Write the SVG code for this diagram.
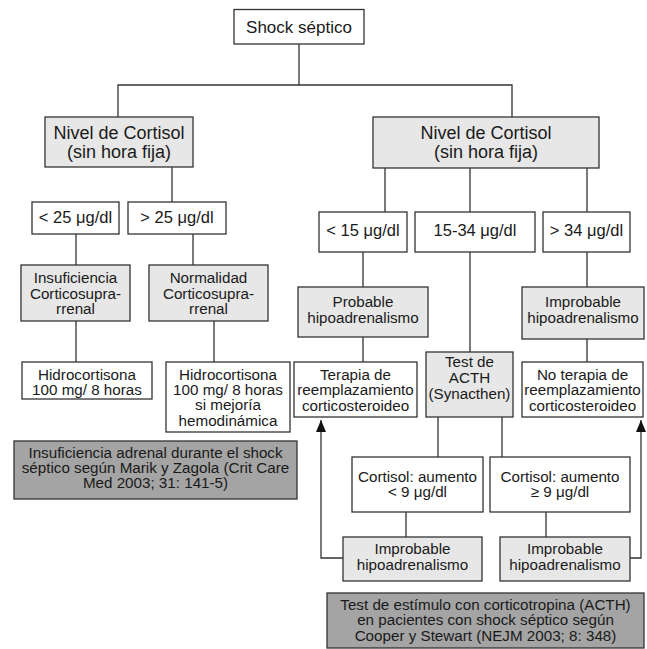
<svg xmlns="http://www.w3.org/2000/svg" width="647" height="649" viewBox="0 0 647 649">
<style>
.b{fill:#fff;stroke:#333;stroke-width:1.3}
.g{fill:#e7e7e7;stroke:#333;stroke-width:1.3}
.d{fill:#a4a4a4;stroke:#333;stroke-width:1.3}
text{font-family:"Liberation Sans",Arial,sans-serif;font-size:15.2px;fill:#1a1a1a;text-anchor:middle}
.n{font-size:18px}
.u{font-size:16.5px}
.c line,.c path{stroke:#333;stroke-width:1.3;fill:none}
</style>
<defs>
<marker id="ah" viewBox="0 0 10 12" refX="5" refY="0" markerWidth="10" markerHeight="12" markerUnits="userSpaceOnUse" orient="0">
<path d="M0,12 L5,0 L10,12 Z" fill="#111"/>
</marker>
</defs>
<g class="c" id="connectors">
<line x1="299" y1="44" x2="299" y2="85"/>
<path d="M118,117 V85 H512 V117"/>
<line x1="172" y1="167" x2="172" y2="202"/>
<line x1="76" y1="234" x2="76" y2="265"/>
<line x1="193" y1="234" x2="193" y2="265"/>
<line x1="76" y1="321" x2="76" y2="362"/>
<line x1="214" y1="321" x2="214" y2="362"/>
<line x1="385" y1="168" x2="385" y2="212"/>
<line x1="470" y1="168" x2="470" y2="212"/>
<line x1="587" y1="168" x2="587" y2="212"/>
<line x1="363" y1="252" x2="363" y2="287"/>
<line x1="470" y1="252" x2="470" y2="352"/>
<line x1="587" y1="252" x2="587" y2="287"/>
<line x1="363" y1="337" x2="363" y2="362"/>
<line x1="587" y1="339" x2="587" y2="362"/>
<line x1="438" y1="417" x2="438" y2="457"/>
<line x1="502" y1="417" x2="502" y2="457"/>
<line x1="406" y1="512" x2="406" y2="537"/>
<line x1="546" y1="512" x2="546" y2="537"/>
<path d="M343,558 H321 V420" marker-end="url(#ah)"/>
<path d="M630,558 H641 V420" marker-end="url(#ah)"/>
</g>
<g id="shock"><rect class="b" x="234" y="9.5" width="130" height="34.5"/><text x="299" y="33" style="font-size:17px">Shock séptico</text></g>
<g id="nivel-left"><rect class="g" x="45" y="117" width="148" height="50"/><text class="n" x="119" y="139">Nivel de Cortisol</text><text class="n" x="119" y="158">(sin hora fija)</text></g>
<g id="nivel-right"><rect class="g" x="373" y="117" width="226" height="51"/><text class="n" x="486" y="139">Nivel de Cortisol</text><text class="n" x="486" y="158">(sin hora fija)</text></g>
<g id="lt25"><rect class="b" x="32" y="202" width="87" height="32"/><text class="u" x="75.5" y="223">&lt; 25 μg/dl</text></g>
<g id="gt25"><rect class="b" x="128" y="202" width="98" height="32"/><text class="u" x="177" y="223">&gt; 25 μg/dl</text></g>
<g id="insuf"><rect class="g" x="21" y="265" width="109" height="56"/><text x="75.5" y="283">Insuficiencia</text><text x="75.5" y="299">Corticosupra-</text><text x="75.5" y="314">rrenal</text></g>
<g id="normal"><rect class="g" x="149" y="265" width="119" height="56"/><text x="208.5" y="283">Normalidad</text><text x="208.5" y="299">Corticosupra-</text><text x="208.5" y="314">rrenal</text></g>
<g id="hidro1"><rect class="b" x="22" y="362" width="130" height="37"/><text x="87" y="380">Hidrocortisona</text><text x="87" y="395">100 mg/ 8 horas</text></g>
<g id="hidro2"><rect class="b" x="166" y="362" width="124" height="70"/><text x="228" y="380">Hidrocortisona</text><text x="228" y="395">100 mg/ 8 horas</text><text x="228" y="410">si mejoría</text><text x="228" y="426">hemodinámica</text></g>
<g id="caption-left"><rect class="d" x="14" y="441" width="283" height="58"/><text x="155.5" y="458">Insuficiencia adrenal durante el shock</text><text x="155.5" y="473">séptico según Marik y Zagola (Crit Care</text><text x="155.5" y="488">Med 2003; 31: 141-5)</text></g>
<g id="lt15"><rect class="b" x="319" y="212" width="88" height="40"/><text class="u" x="363" y="236">&lt; 15 μg/dl</text></g>
<g id="r1534"><rect class="b" x="415" y="212" width="120" height="40"/><text class="u" x="475" y="236">15-34 μg/dl</text></g>
<g id="gt34"><rect class="b" x="543" y="212" width="87" height="40"/><text class="u" x="586.5" y="236">&gt; 34 μg/dl</text></g>
<g id="probable"><rect class="g" x="298" y="287" width="130" height="50"/><text x="363" y="307">Probable</text><text x="363" y="323">hipoadrenalismo</text></g>
<g id="improbable-top"><rect class="g" x="522" y="287" width="122" height="52"/><text x="583" y="307">Improbable</text><text x="583" y="323">hipoadrenalismo</text></g>
<g id="acth"><rect class="g" x="426" y="352" width="87" height="65"/><text x="469.5" y="367">Test de</text><text x="469.5" y="383">ACTH</text><text x="469.5" y="399">(Synacthen)</text></g>
<g id="terapia"><rect class="b" x="294" y="362" width="123" height="55"/><text x="355.5" y="380">Terapia de</text><text x="355.5" y="395">reemplazamiento</text><text x="355.5" y="411">corticosteroideo</text></g>
<g id="noterapia"><rect class="b" x="522" y="362" width="121" height="55"/><text x="582.5" y="380">No terapia de</text><text x="582.5" y="395">reemplazamiento</text><text x="582.5" y="411">corticosteroideo</text></g>
<g id="cort-lt9"><rect class="b" x="352" y="457" width="131" height="55"/><text x="417.5" y="482">Cortisol: aumento</text><text x="417.5" y="497">&lt; 9 μg/dl</text></g>
<g id="cort-ge9"><rect class="b" x="490" y="457" width="140" height="55"/><text x="560" y="482">Cortisol: aumento</text><text x="560" y="497">≥ 9 μg/dl</text></g>
<g id="improbable-l"><rect class="g" x="343" y="537" width="139" height="44"/><text x="412.5" y="554">Improbable</text><text x="412.5" y="570">hipoadrenalismo</text></g>
<g id="improbable-r"><rect class="g" x="500" y="537" width="130" height="44"/><text x="565" y="554">Improbable</text><text x="565" y="570">hipoadrenalismo</text></g>
<g id="caption-right"><rect class="d" x="327" y="593" width="317" height="55"/><text x="485.5" y="610">Test de estímulo con corticotropina (ACTH)</text><text x="485.5" y="625">en pacientes con shock séptico según</text><text x="485.5" y="641">Cooper y Stewart (NEJM 2003; 8: 348)</text></g>
</svg>
